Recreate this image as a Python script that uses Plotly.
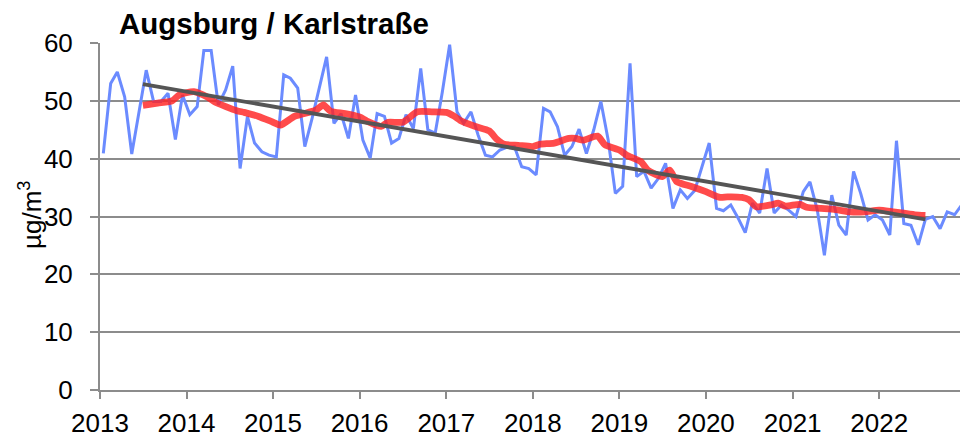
import pandas as pd
import plotly.graph_objects as go

# ---------------- data ----------------
title_text = "Augsburg / Karlstraße"
y_title = "µg/m<sup>3</sup>"

start_month = "2013-01-01"
n_months = 120

monthly_values = [
    # 2013
    40.9, 53.0, 55.0, 50.7, 40.8, 48.0, 55.3, 49.9, 49.9, 51.3, 43.3, 51.0,
    # 2014
    47.6, 49.0, 58.7, 58.7, 49.3, 51.9, 56.0, 38.3, 47.3, 42.7, 41.2, 40.6,
    # 2015
    40.3, 54.5, 53.9, 52.2, 42.1, 47.0, 52.0, 57.6, 46.1, 47.8, 43.5, 51.0,
    # 2016
    43.2, 40.1, 47.8, 47.3, 42.7, 43.5, 47.6, 45.2, 55.6, 45.0, 44.4, 51.5,
    # 2017
    59.7, 48.1, 46.1, 48.1, 44.1, 40.6, 40.3, 41.5, 42.0, 42.1, 38.6, 38.3,
    # 2018
    37.2, 48.7, 48.1, 45.5, 40.6, 42.1, 45.1, 40.9, 45.0, 49.9, 43.2, 34.0,
    # 2019
    35.2, 56.5, 36.9, 37.8, 34.9, 36.6, 39.2, 31.4, 34.6, 33.1, 34.5, 38.5,
    # 2020
    42.7, 31.4, 31.0, 32.0, 29.8, 27.2, 32.3, 30.6, 38.3, 30.6, 32.0, 31.1,
    # 2021
    30.0, 34.3, 36.0, 31.1, 23.3, 33.7, 28.5, 26.8, 37.8, 34.0, 29.4, 30.3,
    # 2022
    29.4, 26.8, 43.1, 28.8, 28.5, 25.1, 29.5, 30.0, 27.9, 30.8, 30.3, 32.0,
]

mavg_dates = [
    "2013-07-01", "2013-09-01", "2013-11-01", "2013-12-01", "2014-02-01", "2014-04-01",
    "2014-05-01", "2014-08-01", "2014-09-01", "2014-11-01", "2015-01-01", "2015-02-01",
    "2015-04-01", "2015-07-01", "2015-08-01", "2015-09-01", "2015-11-01", "2016-01-01",
    "2016-02-01", "2016-04-01", "2016-05-01", "2016-07-01", "2016-09-01", "2016-11-01",
    "2017-01-01", "2017-02-01", "2017-03-01", "2017-05-01", "2017-07-01", "2017-08-01",
    "2017-09-01", "2017-11-01", "2018-01-01", "2018-02-01", "2018-04-01", "2018-06-01",
    "2018-07-01", "2018-08-01", "2018-10-01", "2018-11-01", "2019-01-01", "2019-02-01",
    "2019-04-01", "2019-05-01", "2019-07-01", "2019-08-01", "2019-09-01", "2019-11-01",
    "2020-01-01", "2020-03-01", "2020-04-01", "2020-06-01", "2020-07-01", "2020-08-01",
    "2020-10-01", "2020-11-01", "2020-12-01", "2021-02-01", "2021-03-01", "2021-05-01",
    "2021-07-01", "2021-09-01", "2021-11-01", "2022-01-01", "2022-03-01", "2022-06-01",
    "2022-07-15",
]
mavg_values = [
    49.2, 49.6, 50.0, 51.0, 51.6, 50.6,
    49.8, 48.3, 48.0, 47.3, 46.3, 45.8,
    47.3, 48.4, 49.3, 48.2, 47.8, 47.2,
    46.5, 45.6, 46.3, 46.3, 48.1, 48.1,
    48.0, 47.4, 46.6, 45.6, 44.8, 43.4,
    42.5, 42.3, 42.1, 42.5, 42.7, 43.5,
    43.5, 43.2, 43.9, 42.4, 41.5, 40.6,
    39.5, 38.0, 36.9, 38.0, 36.0, 35.2,
    34.3, 33.3, 33.4, 33.3, 32.9, 31.7,
    32.0, 32.3, 31.8, 32.1, 31.6, 31.4,
    31.2, 30.8, 30.8, 31.1, 30.8, 30.3,
    30.2,
]

trend_dates = ["2013-07-01", "2022-07-15"]
trend_values = [52.9, 29.5]

year_ticks = [str(y) for y in range(2013, 2023)]

# ---------------- figure ----------------
monthly_dates = pd.date_range(start_month, periods=n_months, freq="MS") + pd.Timedelta(days=14)

FONT = "Liberation Sans, Arial, sans-serif"
GRID = "#8c8c8c"

fig = go.Figure()
fig.add_trace(go.Scatter(
    x=monthly_dates, y=monthly_values, mode="lines",
    line=dict(color="#6b8bff", width=3), showlegend=False,
))
fig.add_trace(go.Scatter(
    x=pd.to_datetime(mavg_dates), y=mavg_values, mode="lines",
    line=dict(color="rgba(255,35,35,0.82)", width=6.8, shape="spline", smoothing=0.6),
    showlegend=False,
))
fig.add_trace(go.Scatter(
    x=pd.to_datetime(trend_dates), y=trend_values, mode="lines",
    line=dict(color="#555555", width=3.8), showlegend=False,
))

fig.update_layout(
    width=960, height=437,
    margin=dict(l=100, r=0, t=43, b=47, autoexpand=False),
    paper_bgcolor="white", plot_bgcolor="white",
    font=dict(family=FONT, size=26, color="#000000"),
    title=dict(
        text="<b>" + title_text + "</b>",
        font=dict(family=FONT, size=29.5, color="#000000"),
        xref="container", x=119 / 960, xanchor="left",
        yref="container", y=1 - 24 / 437, yanchor="middle",
    ),
    annotations=[dict(
        text=y_title, textangle=-90, showarrow=False,
        xref="paper", yref="paper",
        x=(30 - 100) / 860, y=(390 - 215) / 347,
        xanchor="center", yanchor="middle",
        font=dict(family=FONT, size=26, color="#000000"),
    )],
)

fig.update_xaxes(
    type="date",
    range=["2013-01-01", "2022-12-08"],
    tickmode="array",
    tickvals=pd.to_datetime([y + "-01-01" for y in year_ticks]),
    ticktext=year_ticks,
    showgrid=False, zeroline=False, automargin=False,
    showline=True, linecolor=GRID, linewidth=2,
    ticks="outside", ticklen=7, tickwidth=2, tickcolor=GRID,
    ticklabelstandoff=2,
    tickfont=dict(family=FONT, size=26, color="#000000"),
)
fig.update_yaxes(
    range=[0, 60], dtick=10, tick0=0,
    showgrid=True, gridcolor=GRID, gridwidth=2,
    zeroline=False, automargin=False,
    showline=True, linecolor=GRID, linewidth=2,
    ticks="outside", ticklen=8, tickwidth=2, tickcolor=GRID,
    ticklabelstandoff=12,
    tickfont=dict(family=FONT, size=26, color="#000000"),
)

fig.write_html(
    "out.html",
    config={"displayModeBar": False},
    post_script="document.body.style.margin='0';document.body.style.overflow='hidden';",
)
